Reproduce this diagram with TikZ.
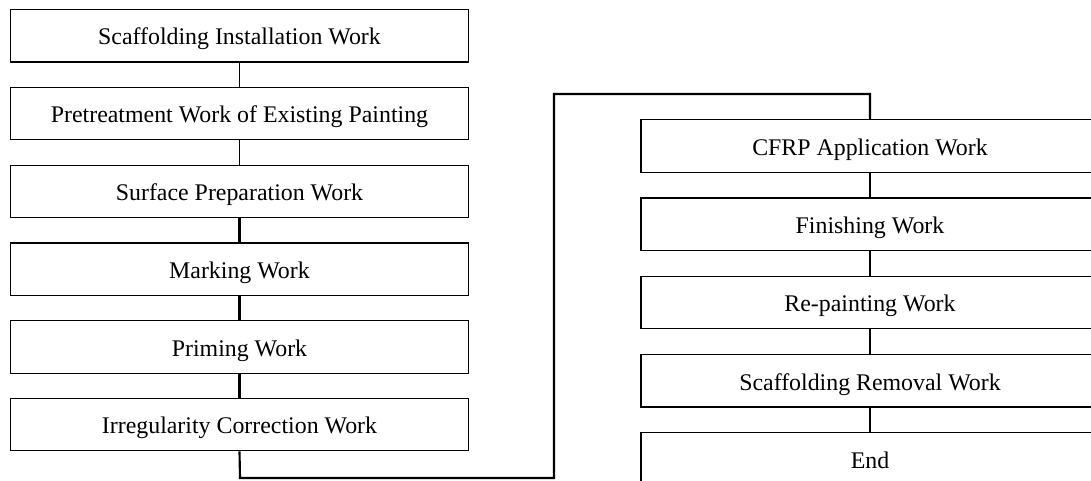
\documentclass[tikz,border=0pt]{standalone}
\usepackage{fontspec}
\setmainfont{Liberation Serif}
\begin{document}
\begin{tikzpicture}[x=0.75pt,y=-0.75pt,
  stepbox/.style={draw, line width=1pt, minimum width=343.5pt, minimum height=39.3pt,
    inner sep=0pt, text height=13.8pt, text depth=0pt, font=\fontsize{17.9}{20}\selectfont},
  thinline/.style={line width=1pt},
  thickline/.style={line width=1.6pt}]
\useasboundingbox (0,0) rectangle (1091,481);
\node[stepbox] (a1) at (239.5,35.8) {Scaffolding Installation Work};
\node[stepbox] (a2) at (239.5,113.6) {Pretreatment Work of Existing Painting};
\node[stepbox] (a3) at (239.5,191.4) {Surface Preparation Work};
\node[stepbox] (a4) at (239.5,269.2) {Marking Work};
\node[stepbox] (a5) at (239.5,347) {Priming Work};
\node[stepbox] (a6) at (239.5,424.6) {Irregularity Correction Work};
\node[stepbox] (b1) at (870,146) {CFRP Application Work};
\node[stepbox] (b2) at (870,224.3) {Finishing Work};
\node[stepbox] (b3) at (870,302.5) {Re-painting Work};
\node[stepbox] (b4) at (870,380.8) {Scaffolding Removal Work};
\node[stepbox] (b5) at (870,459) {End};
\coordinate (c1) at (240,478);
\coordinate (c2) at (554,478);
\coordinate (c3) at (554,94);
\coordinate (c4) at (870,94);
\draw[thinline] (a1) -- (a2);
\draw[thinline] (a2) -- (a3);
\draw[thickline] (a3) -- (a4);
\draw[thickline] (a4) -- (a5);
\draw[thickline] (a5) -- (a6);
\draw[thickline] (a6.south) -- (c1) -- (c2) -- (c3) -- (c4) -- (b1.north);
\draw[thinline] (b1) -- (b2);
\draw[thickline] (b2) -- (b3);
\draw[thickline] (b3) -- (b4);
\draw[thinline] (b4) -- (b5);
\end{tikzpicture}
\end{document}
